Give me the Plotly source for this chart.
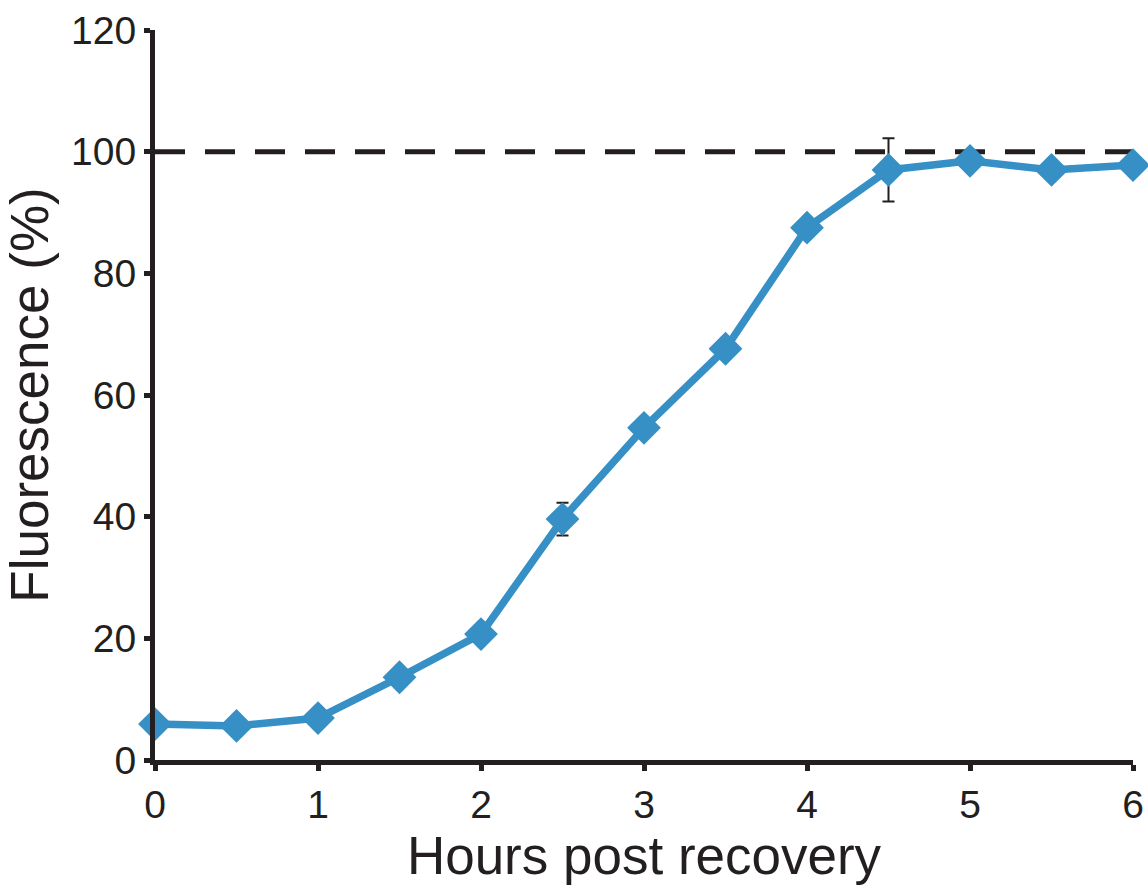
import plotly.graph_objects as go

hours = [0, 0.5, 1, 1.5, 2, 2.5, 3, 3.5, 4, 4.5, 5, 5.5, 6]
fluorescence = [5.9, 5.6, 6.9, 13.6, 20.7, 39.6, 54.6, 67.6, 87.5, 97.0, 98.5, 97.0, 97.8]
errors = [0.4, 0.4, 0.5, 0.6, 0.6, 2.7, 0.6, 0.6, 0.6, 5.2, 0.5, 0.6, 1.0]
reference_level = 100
x_ticks = [0, 1, 2, 3, 4, 5, 6]
y_ticks = [0, 20, 40, 60, 80, 100, 120]

dark = "#231f20"
blue = "#3690c6"
fam = "Liberation Sans, Arial, sans-serif"

fig = go.Figure()
fig.add_trace(go.Scatter(
    x=[hours[0], hours[-1]], y=[reference_level, reference_level],
    mode="lines", line=dict(color=dark, width=5, dash="30px,20px"),
    hoverinfo="skip", cliponaxis=False,
))
fig.add_trace(go.Scatter(
    x=hours, y=fluorescence, mode="lines+markers",
    line=dict(color=blue, width=7.5),
    marker=dict(symbol="diamond", size=26, color=blue),
    error_y=dict(type="data", array=errors, color=dark, thickness=2, width=6),
    cliponaxis=False,
))

axis_font = dict(family=fam, size=39, color=dark)
title_font = dict(family=fam, size=53, color=dark)
fig.update_layout(
    width=1148, height=893,
    margin=dict(l=155, r=15, t=30, b=133),
    paper_bgcolor="white", plot_bgcolor="white",
    showlegend=False,
    font=dict(family=fam, color=dark),
)
fig.update_xaxes(
    range=[0, 6], tickvals=x_ticks, showgrid=False, zeroline=False,
    showline=True, linecolor=dark, linewidth=5, automargin=False,
    ticks="outside", ticklen=6, tickwidth=5, tickcolor=dark,
    tickfont=axis_font,
    title=dict(text="Hours post recovery", font=title_font, standoff=14),
)
fig.update_yaxes(
    range=[0, 120], tickvals=y_ticks, showgrid=False, zeroline=False,
    showline=True, linecolor=dark, linewidth=5, automargin=False,
    ticks="outside", ticklen=6, tickwidth=5, tickcolor=dark,
    tickfont=axis_font,
    title=dict(text="Fluorescence (%)", font=title_font, standoff=10),
)

fig.write_html("out.html")
